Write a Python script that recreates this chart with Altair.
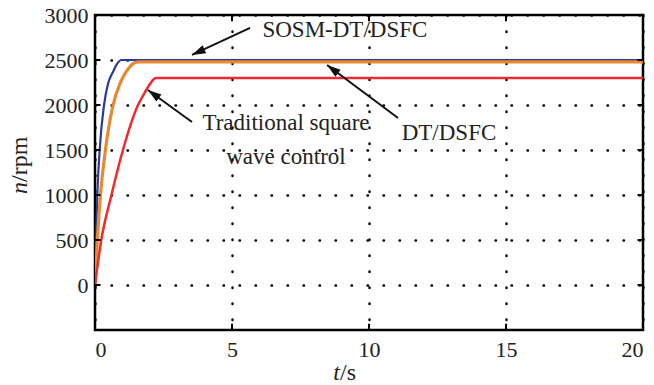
import math
import altair as alt
import pandas as pd

# ---- data ----
blue_t = [0, 0.04, 0.085, 0.17, 0.33, 0.47, 0.66, 0.8, 0.96, 20]
blue_n = [0, 500, 1000, 1500, 2000, 2230, 2370, 2455, 2500, 2500]

orange_t = [0, 0.085, 0.2, 0.38, 0.66, 0.9, 1.14, 1.35, 1.57, 20]
orange_n = [0, 500, 1000, 1500, 2000, 2230, 2370, 2450, 2480, 2480]

red_t = [0, 0.23, 0.6, 1.02, 1.57, 1.8, 2.0, 2.12, 2.23, 20]
red_n = [0, 500, 1000, 1500, 2000, 2130, 2230, 2280, 2300, 2300]

x_ticks = [0, 5, 10, 15, 20]
y_ticks = [0, 500, 1000, 1500, 2000, 2500, 3000]

labels = ["SOSM-DT/DSFC", "Traditional square", "wave control", "DT/DSFC"]
label_t = [9.12, 6.97, 6.97, 12.92]
label_n = [2833, 1800, 1422, 1689]

arrow_t0 = [5.66, 3.54, 11.06]
arrow_n0 = [2856, 1811, 1856]
arrow_t1 = [3.54, 1.93, 8.47]
arrow_n1 = [2556, 2167, 2444]

W, H = 548, 315
XD = [0, 20]
YD = [-500, 3000]
FONT = "Liberation Serif, Times New Roman, serif"
TXT = "#222222"

xs = alt.Scale(domain=XD, nice=False, zero=False)
ys = alt.Scale(domain=YD, nice=False, zero=False)
xaxis = alt.Axis(values=x_ticks, title=None, grid=True, labelFont=FONT, format="d")
yaxis = alt.Axis(values=y_ticks, title=None, grid=True, labelFont=FONT, format="d")


def line_layer(ts, ns, color, width):
    return alt.Chart(pd.DataFrame({"t": ts, "n": ns})).mark_line(
        color=color, strokeWidth=width, interpolate="monotone", clip=True
    ).encode(
        x=alt.X("t:Q", scale=xs, axis=xaxis),
        y=alt.Y("n:Q", scale=ys, axis=yaxis),
    )


blue = line_layer(blue_t, blue_n, "#2a3a9a", 2.2)
orange = line_layer(orange_t, orange_n, "#e8892f", 3.2)
red = line_layer(red_t, red_n, "#ee2b30", 2.5)

# inward tick marks on the frame
tick_len_n = 70
tick_len_t = 0.2
xt = pd.DataFrame({"t": x_ticks[1:-1] * 2,
                   "n0": [YD[0]] * 3 + [YD[1] - tick_len_n] * 3,
                   "n1": [YD[0] + tick_len_n] * 3 + [YD[1]] * 3})
yt = pd.DataFrame({"n": y_ticks[:-1] * 2,
                   "t0": [XD[0]] * 6 + [XD[1] - tick_len_t] * 6,
                   "t1": [XD[0] + tick_len_t] * 6 + [XD[1]] * 6})
xtick_layer = alt.Chart(xt).mark_rule(color="black", strokeWidth=2).encode(
    x=alt.X("t:Q", scale=xs), y=alt.Y("n0:Q", scale=ys), y2="n1:Q")
ytick_layer = alt.Chart(yt).mark_rule(color="black", strokeWidth=2).encode(
    y=alt.Y("n:Q", scale=ys), x=alt.X("t0:Q", scale=xs), x2="t1:Q")

# annotation texts
lab_df = pd.DataFrame({"label": labels, "t": label_t, "n": label_n})
text_layer = alt.Chart(lab_df).mark_text(
    font=FONT, fontSize=23, color=TXT, align="center", baseline="middle"
).encode(x=alt.X("t:Q", scale=xs), y=alt.Y("n:Q", scale=ys), text="label:N")

# arrows
px_per_t = W / (XD[1] - XD[0])
px_per_n = H / (YD[1] - YD[0])
angles = []
for a, b, c, d in zip(arrow_t0, arrow_n0, arrow_t1, arrow_n1):
    dx = (c - a) * px_per_t
    dy = -(d - b) * px_per_n
    angles.append(math.degrees(math.atan2(dx, -dy)) % 360)
arr_df = pd.DataFrame({"t0": arrow_t0, "n0": arrow_n0, "t1": arrow_t1, "n1": arrow_n1, "ang": angles})
arrow_lines = alt.Chart(arr_df).mark_rule(color="#111111", strokeWidth=2).encode(
    x=alt.X("t0:Q", scale=xs), y=alt.Y("n0:Q", scale=ys), x2="t1:Q", y2="n1:Q")
arrow_heads = alt.Chart(arr_df).mark_point(
    shape="M0,0 L-0.45,1.4 L0.45,1.4 Z", filled=True, color="#111111", size=380, opacity=1
).encode(x=alt.X("t1:Q", scale=xs), y=alt.Y("n1:Q", scale=ys), angle=alt.Angle("ang:Q", scale=None))

# axis titles (italic variable + regular unit)
one = pd.DataFrame({"a": [0]})
ytitle_n = alt.Chart(one).mark_text(font=FONT, fontSize=24, fontStyle="italic", angle=270,
                                    align="right", baseline="middle", color=TXT).encode(
    x=alt.value(-75), y=alt.value(167), text=alt.value("n"))
ytitle_u = alt.Chart(one).mark_text(font=FONT, fontSize=24, angle=270,
                                    align="left", baseline="middle", color=TXT).encode(
    x=alt.value(-75), y=alt.value(167), text=alt.value("/rpm"))
xtitle_t = alt.Chart(one).mark_text(font=FONT, fontSize=24, fontStyle="italic",
                                    align="right", baseline="middle", color=TXT).encode(
    x=alt.value(245), y=alt.value(358), text=alt.value("t"))
xtitle_u = alt.Chart(one).mark_text(font=FONT, fontSize=24,
                                    align="left", baseline="middle", color=TXT).encode(
    x=alt.value(245), y=alt.value(358), text=alt.value("/s"))

chart = alt.layer(
    blue, orange, red, xtick_layer, ytick_layer,
    arrow_lines, arrow_heads, text_layer,
    ytitle_n, ytitle_u, xtitle_t, xtitle_u,
).properties(
    width=W, height=H,
    autosize=alt.AutoSizeParams(type="none"),
    padding={"left": 95, "top": 15, "right": 11, "bottom": 55},
    background="white",
).configure(
    font=FONT
).configure_view(
    stroke="black", strokeWidth=2.5
).configure_axis(
    domain=False, ticks=False,
    labelFont=FONT, labelFontSize=22, labelColor=TXT,
    gridColor="black", gridDash=[0.5, 15.5], gridWidth=2.4, gridCap="round", gridOpacity=1,
    labelPadding=9,
).configure_axisY(labelPadding=7)

chart.save("out.html", embed_options={"renderer": "svg", "actions": False})
